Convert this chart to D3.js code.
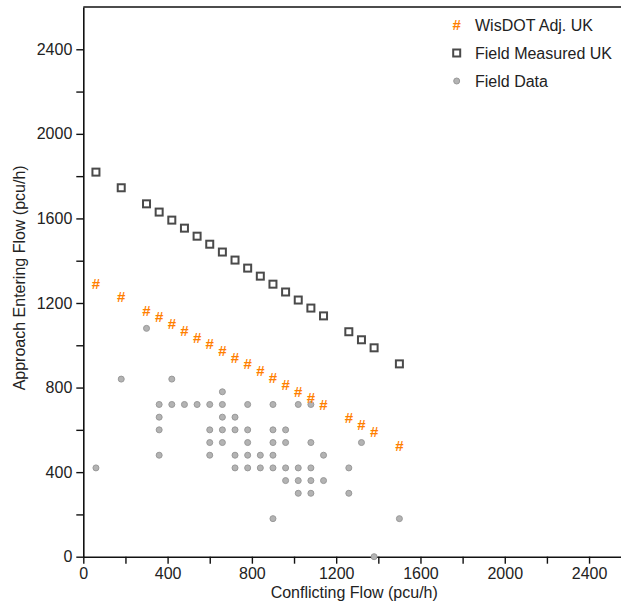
<!DOCTYPE html>
<html>
<head>
<meta charset="utf-8">
<script src="https://cdn.jsdelivr.net/npm/d3@7"></script>
<style>
  html, body { margin: 0; padding: 0; background: #fff; }
  svg { display: block; font-family: "Liberation Sans", Arial, sans-serif; }
</style>
</head>
<body>
<svg id="chart" width="621" height="607"></svg>
<script>
// ---- data ----
const ukFlowX = [60, 180, 300, 360, 420, 480, 540, 600, 660, 720, 780, 840, 900, 960, 1020, 1080, 1140, 1260, 1320, 1380, 1500];
const wisdotAdjUK = [1291, 1229, 1165, 1135, 1102, 1070, 1037, 1006, 973, 943, 911, 878, 846, 815, 783, 753, 721, 656, 624, 593, 527];
const fieldMeasuredUK = [1819, 1745, 1669, 1630, 1592, 1554, 1516, 1478, 1441, 1403, 1365, 1327, 1289, 1252, 1214, 1176, 1139, 1064, 1026, 988, 912];

const fieldDataX = [
  300,
  180, 420,
  660,
  360, 420, 480, 540, 600, 660, 780, 900, 1020, 1080,
  360, 660, 720,
  360, 600, 660, 720, 780, 900, 960,
  600, 660, 780, 900, 960, 1080, 1320,
  360, 600, 720, 780, 840, 900, 1140,
  60, 720, 780, 840, 900, 960, 1020, 1080, 1260,
  960, 1020, 1080, 1140,
  1020, 1080, 1260,
  900, 1500,
  1380
];
const fieldDataY = [
  1080,
  840, 840,
  780,
  720, 720, 720, 720, 720, 720, 720, 720, 720, 720,
  660, 660, 660,
  600, 600, 600, 600, 600, 600, 600,
  540, 540, 540, 540, 540, 540, 540,
  480, 480, 480, 480, 480, 480, 480,
  420, 420, 420, 420, 420, 420, 420, 420, 420,
  360, 360, 360, 360,
  300, 300, 300,
  180, 180,
  0
];

const xTicks = [0, 200, 400, 600, 800, 1000, 1200, 1400, 1600, 1800, 2000, 2200, 2400, 2600];
const yTicks = [0, 200, 400, 600, 800, 1000, 1200, 1400, 1600, 1800, 2000, 2200, 2400, 2600];
const labelledTicks = [0, 400, 800, 1200, 1600, 2000, 2400];
const legendLabels = ["WisDOT Adj. UK", "Field Measured UK", "Field Data"];
const xTitle = "Conflicting Flow (pcu/h)";
const yTitle = "Approach Entering Flow (pcu/h)";

// ---- styles ----
const ORANGE = "#ff7f00";
const SQUARE = "#4a4a4a";
const DOT_FILL = "#b3b3b3";
const DOT_STROKE = "#999999";

const svg = d3.select("#chart");
const x = d3.scaleLinear().domain([0, 2600]).range([83.3, 631.2]);
const y = d3.scaleLinear().domain([0, 2600]).range([556.7, 7]);

const fmt = d => labelledTicks.includes(d) ? String(d) : "";

// axes
const gx = svg.append("g").attr("transform", `translate(0,${y(0)})`)
  .call(d3.axisBottom(x).tickValues(xTicks).tickFormat(fmt).tickSize(7).tickPadding(4).tickSizeOuter(0));
const gy = svg.append("g").attr("transform", `translate(${x(0)},0)`)
  .call(d3.axisLeft(y).tickValues(yTicks.filter(v => v < 2600)).tickFormat(fmt).tickSize(7).tickPadding(4).tickSizeOuter(0));
[gx, gy].forEach(g => {
  g.select(".domain").attr("stroke", "#111").attr("stroke-width", 1.6);
  g.selectAll(".tick line").attr("stroke", "#111").attr("stroke-width", 1.4);
  g.selectAll(".tick text").attr("fill", "#222").style("font-size", "16px")
    .style("font-family", "'Liberation Sans', Arial, sans-serif");
});
gx.select(".tick:last-of-type").remove();

// top border
svg.append("line")
  .attr("x1", x(0)).attr("x2", x(2600))
  .attr("y1", y(2600)).attr("y2", y(2600))
  .attr("stroke", "#111").attr("stroke-width", 1.6);

// titles
svg.append("text")
  .attr("x", (x(0) + x(2600)) / 2 - 3).attr("y", 598)
  .attr("text-anchor", "middle").attr("fill", "#222")
  .style("font-size", "16px").text(xTitle);
svg.append("text")
  .attr("transform", `translate(25,${(y(0) + y(2600)) / 2 - 4}) rotate(-90)`)
  .attr("text-anchor", "middle").attr("fill", "#222")
  .style("font-size", "16px").text(yTitle);

// field data
svg.append("g").selectAll("circle")
  .data(fieldDataX.map((v, i) => [v, fieldDataY[i]]))
  .join("circle")
  .attr("cx", d => x(d[0])).attr("cy", d => y(d[1])).attr("r", 3)
  .attr("fill", DOT_FILL).attr("stroke", DOT_STROKE).attr("stroke-width", 1);

// field measured UK squares
svg.append("g").selectAll("rect")
  .data(ukFlowX.map((v, i) => [v, fieldMeasuredUK[i]]))
  .join("rect")
  .attr("x", d => x(d[0]) - 3.5).attr("y", d => y(d[1]) - 3.5)
  .attr("width", 7).attr("height", 7)
  .attr("fill", "#fff").attr("stroke", SQUARE).attr("stroke-width", 2);

// WisDOT hashes
svg.append("g").selectAll("text")
  .data(ukFlowX.map((v, i) => [v, wisdotAdjUK[i]]))
  .join("text")
  .attr("x", d => x(d[0])).attr("y", d => y(d[1]))
  .attr("text-anchor", "middle").attr("dy", "0.36em")
  .attr("fill", ORANGE).style("font-size", "15px").style("font-weight", "bold")
  .text("#");

// legend
const lg = svg.append("g");
const ly = [25, 53, 81];
lg.append("text").attr("x", 456.7).attr("y", ly[0]).attr("dy", "0.36em")
  .attr("text-anchor", "middle").attr("fill", ORANGE)
  .style("font-size", "15px").style("font-weight", "bold").text("#");
lg.append("rect").attr("x", 456.7 - 3.5).attr("y", ly[1] - 3.5)
  .attr("width", 7).attr("height", 7)
  .attr("fill", "#fff").attr("stroke", SQUARE).attr("stroke-width", 2);
lg.append("circle").attr("cx", 456.7).attr("cy", ly[2]).attr("r", 3)
  .attr("fill", DOT_FILL).attr("stroke", DOT_STROKE);
legendLabels.forEach((t, i) => {
  lg.append("text").attr("x", 475).attr("y", ly[i]).attr("dy", "0.36em")
    .attr("fill", "#222").style("font-size", "16px").text(t);
});
</script>
</body>
</html>
